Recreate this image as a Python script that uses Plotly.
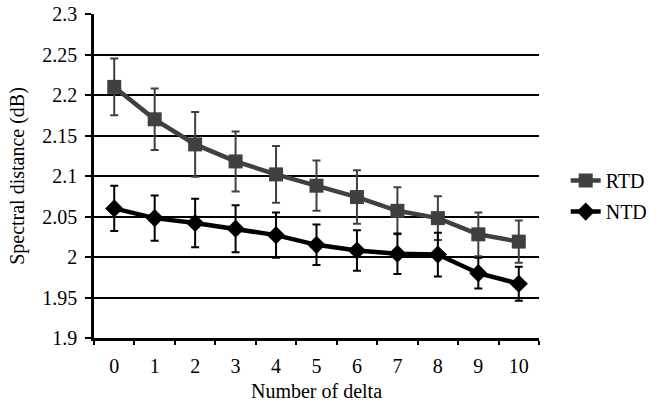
import plotly.graph_objects as go

categories = ["0", "1", "2", "3", "4", "5", "6", "7", "8", "9", "10"]
rtd = [2.210, 2.170, 2.139, 2.118, 2.102, 2.088, 2.074, 2.057, 2.048, 2.028, 2.019]
rtd_err = [0.035, 0.038, 0.040, 0.037, 0.035, 0.031, 0.033, 0.029, 0.027, 0.027, 0.026]
ntd = [2.060, 2.048, 2.042, 2.035, 2.027, 2.015, 2.008, 2.004, 2.003, 1.980, 1.967]
ntd_err = [0.028, 0.028, 0.030, 0.029, 0.028, 0.025, 0.025, 0.025, 0.027, 0.019, 0.021]
yticks = [1.9, 1.95, 2.0, 2.05, 2.1, 2.15, 2.2, 2.25, 2.3]
ytick_text = ["1.9", "1.95", "2", "2.05", "2.1", "2.15", "2.2", "2.25", "2.3"]

FONT = "Liberation Serif"
GRAY = "#404040"
FS = 20

fig = go.Figure()
fig.add_trace(go.Scatter(
    x=categories, y=rtd, name="RTD", mode="lines+markers", legendgroup="rtd",
    line=dict(color=GRAY, width=4.5),
    marker=dict(symbol="square", size=14, color=GRAY),
    error_y=dict(type="data", array=rtd_err, visible=True, color=GRAY, thickness=2, width=4),
))
fig.add_trace(go.Scatter(
    x=categories, y=ntd, name="NTD", mode="lines+markers", legendgroup="ntd",
    line=dict(color="black", width=4.5),
    marker=dict(symbol="diamond", size=14, color="black"),
    error_y=dict(type="data", array=ntd_err, visible=True, color="black", thickness=2, width=4),
))

fig.update_layout(
    width=660, height=402,
    margin=dict(l=94, r=121, t=14, b=64, autoexpand=False),
    paper_bgcolor="white", plot_bgcolor="white",
    font=dict(family=FONT, size=FS, color="black"),
    showlegend=True,
    legend=dict(x=1.06, y=0.438, xanchor="left", yanchor="middle",
                font=dict(family=FONT, size=FS, color="black"),
                traceorder="grouped", tracegroupgap=2,
                bgcolor="rgba(0,0,0,0)", itemwidth=30),
    xaxis=dict(
        type="category", tickson="boundaries", ticks="outside", ticklen=4,
        tickwidth=2, tickcolor="black", showgrid=False,
        showline=True, linecolor="black", linewidth=2.5,
        range=[-0.5, 10.5], automargin=False, ticklabelstandoff=8,
        title=dict(text="Number of delta", standoff=12, font=dict(family=FONT, size=FS)),
        tickfont=dict(family=FONT, size=FS),
    ),
    yaxis=dict(
        range=[1.9, 2.3], tickvals=yticks, ticktext=ytick_text,
        ticks="outside", ticklen=6, tickwidth=2, tickcolor="black",
        showgrid=True, gridcolor="black", gridwidth=2,
        showline=True, linecolor="black", linewidth=2.5,
        zeroline=False, automargin=False, ticklabelstandoff=4,
        title=dict(text="Spectral distance (dB)", standoff=13, font=dict(family=FONT, size=FS)),
        tickfont=dict(family=FONT, size=FS),
    ),
)

fig.write_html("out.html", config={"displayModeBar": False},
               post_script="document.body.style.margin='0';document.body.style.overflow='hidden';")
